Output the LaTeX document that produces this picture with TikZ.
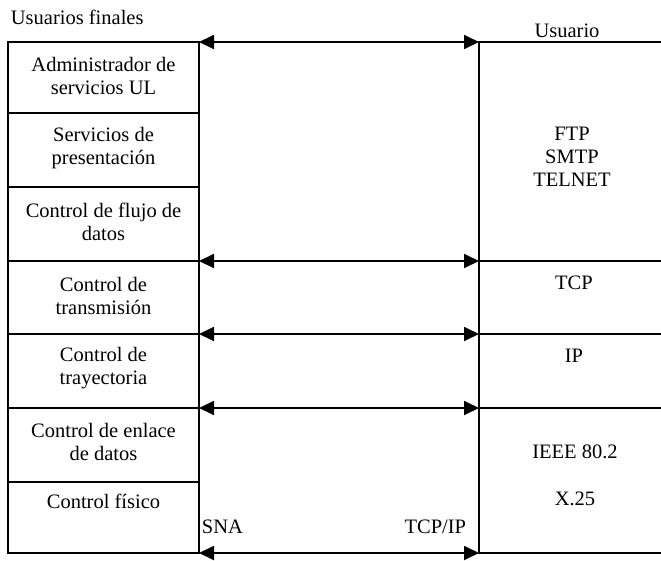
\documentclass[tikz,border=0pt]{standalone}
\usepackage{fontspec}
\setmainfont{Liberation Serif}
\usetikzlibrary{arrows.meta}
\begin{document}
\begin{tikzpicture}[x=1pt,y=-1pt,
  line width=1.8pt,
  cell/.style={draw, rectangle, inner sep=0pt, outer sep=0pt, minimum width=191pt},
  rcell/.style={rectangle, inner sep=0pt, outer sep=0pt, minimum width=182pt},
  lbl/.style={align=center, inner sep=0pt, font=\fontsize{20.5}{23}\selectfont},
  dbl/.style={{Triangle[length=15pt,width=14pt]}-{Triangle[length=15pt,width=14pt]}}]
\useasboundingbox (0,0) rectangle (661,560);
% left column cells (SNA)
\node[cell, minimum height=71pt] (l1) at (103.5,77.5) {};
\node[cell, minimum height=74pt] (l2) at (103.5,150) {};
\node[cell, minimum height=74pt] (l3) at (103.5,224) {};
\node[cell, minimum height=73pt] (l4) at (103.5,297.5) {};
\node[cell, minimum height=74pt] (l5) at (103.5,371) {};
\node[cell, minimum height=74pt] (l6) at (103.5,445) {};
\node[cell, minimum height=71pt] (l7) at (103.5,517.5) {};
% right column cells (TCP/IP)
\node[rcell, minimum height=219pt] (r1) at (570,151.5) {};
\node[rcell, minimum height=73pt] (r2) at (570,297.5) {};
\node[rcell, minimum height=74pt] (r3) at (570,371) {};
\node[rcell, minimum height=145pt] (r4) at (570,480.5) {};
\draw (r1.north east) -- (r1.north west) -- (r4.south west) -- (r4.south east);
\draw (r2.north west) -- (r2.north east);
\draw (r3.north west) -- (r3.north east);
\draw (r4.north west) -- (r4.north east);
% connectors
\draw[dbl] (l1.north east) -- (r1.north west);
\draw[dbl] (l4.north east) -- (r2.north west);
\draw[dbl] (l5.north east) -- (r3.north west);
\draw[dbl] (l6.north east) -- (r4.north west);
\draw[dbl] (l7.south east) -- (r4.south west);
% left texts
\node[lbl] (tl1) at (103.5,76) {Administrador de\\servicios UL};
\node[lbl] (tl2) at (103.5,148.5) {Servicios de\\presentación};
\node[lbl] (tl3) at (103.5,222) {Control de flujo de\\datos};
\node[lbl] (tl4) at (103.5,296) {Control de\\transmisión};
\node[lbl] (tl5) at (103.5,368.5) {Control de\\trayectoria};
\node[lbl] (tl6) at (103.5,442) {Control de enlace\\de datos};
\node[lbl] (tl7) at (103.5,501) {Control físico};
% right texts
\node[lbl] (tr1) at (572,157) {FTP\\SMTP\\TELNET};
\node[lbl] (tr2) at (574,283) {TCP};
\node[lbl] (tr3) at (574,356) {IP};
\node[lbl] (tr4) at (575,452) {IEEE 80.2};
\node[lbl] (tr5) at (575,499) {X.25};
% headings and footers
\node[lbl, anchor=west] (uf) at (10,17) {Usuarios finales};
\node[lbl] (us) at (567,31) {Usuario};
\node[lbl, anchor=west] (sna) at (201,527) {SNA};
\node[lbl, anchor=east] (tcpip) at (467,527) {TCP/IP};
\end{tikzpicture}
\end{document}
